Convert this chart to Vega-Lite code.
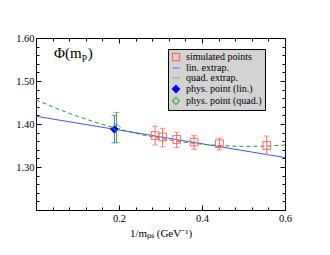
{
  "$schema": "https://vega.github.io/schema/vega-lite/v6.json",
  "width": 249,
  "height": 172,
  "autosize": {"type": "none"},
  "padding": {"left": 36, "top": 38, "right": 45, "bottom": 45},
  "background": "white",
  "config": {"view": {"stroke": "black", "strokeWidth": 1}, "font": "Liberation Serif"},
  "datasets": {
    "lin": [{"x": 0, "y": 1.418}, {"x": 0.6, "y": 1.322}],
    "quad": [
      {"x": 0, "y": 1.456}, {"x": 0.05, "y": 1.4359}, {"x": 0.1, "y": 1.4179}, {"x": 0.15, "y": 1.4019},
      {"x": 0.2, "y": 1.388}, {"x": 0.25, "y": 1.3762}, {"x": 0.3, "y": 1.3664}, {"x": 0.35, "y": 1.3587},
      {"x": 0.4, "y": 1.353}, {"x": 0.45, "y": 1.3494}, {"x": 0.5, "y": 1.3479}, {"x": 0.55, "y": 1.3484},
      {"x": 0.6, "y": 1.351}
    ],
    "pts": [
      {"series": "simulated points", "x": 0.287, "y": 1.373, "lo": 1.351, "hi": 1.395},
      {"series": "simulated points", "x": 0.305, "y": 1.370, "lo": 1.347, "hi": 1.390},
      {"series": "simulated points", "x": 0.339, "y": 1.364, "lo": 1.345, "hi": 1.381},
      {"series": "simulated points", "x": 0.381, "y": 1.358, "lo": 1.341, "hi": 1.373},
      {"series": "simulated points", "x": 0.442, "y": 1.354, "lo": 1.3395, "hi": 1.367},
      {"series": "simulated points", "x": 0.556, "y": 1.350, "lo": 1.329, "hi": 1.372},
      {"series": "phys. point (lin.)", "x": 0.189, "y": 1.388, "lo": 1.356, "hi": 1.420},
      {"series": "phys. point (quad.)", "x": 0.194, "y": 1.392, "lo": 1.357, "hi": 1.427}
    ]
  },
  "layer": [
    {
      "data": {"name": "lin"},
      "mark": {"type": "line", "color": "#4d4dff", "strokeWidth": 1},
      "encoding": {
        "x": {"field": "x", "type": "quantitative", "scale": {"domain": [0, 0.6], "nice": false, "zero": false},
          "axis": {"orient": "bottom", "values": [0, 0.2, 0.4, 0.6], "tickSize": -5, "tickColor": "black", "domain": false, "grid": false,
            "labelExpr": "datum.value == 0 ? '' : format(datum.value, '.1f')", "labelFont": "Liberation Serif", "labelFontSize": 10.5, "labelColor": "black", "labelPadding": 8, "labelFlush": false,
            "title": "1/mₚₛ (GeV⁻¹)", "titleFont": "Liberation Serif", "titleFontSize": 11, "titleFontWeight": "normal", "titleColor": "black", "titlePadding": 4}},
        "y": {"field": "y", "type": "quantitative", "scale": {"domain": [1.2, 1.6], "nice": false, "zero": false},
          "axis": {"orient": "left", "values": [1.2, 1.3, 1.4, 1.5, 1.6], "tickSize": -5, "tickColor": "black", "domain": false, "grid": false,
            "labelExpr": "datum.value < 1.25 ? '' : format(datum.value, '.2f')", "labelFont": "Liberation Serif", "labelFontSize": 10.5, "labelColor": "black", "labelPadding": 7, "labelFlush": false, "title": null}}
      }
    },
    {
      "data": {"name": "quad"},
      "mark": {"type": "line", "color": "#229922", "strokeWidth": 1, "strokeDash": [4, 3]},
      "encoding": {
        "x": {"field": "x", "type": "quantitative", "axis": {"orient": "top", "values": [0, 0.2, 0.4, 0.6], "tickSize": -5, "tickColor": "black", "domain": false, "grid": false, "labels": false, "title": null}},
        "y": {"field": "y", "type": "quantitative", "axis": {"orient": "right", "values": [1.2, 1.3, 1.4, 1.5, 1.6], "tickSize": -5, "tickColor": "black", "domain": false, "grid": false, "labels": false, "title": null}}
      }
    },
    {
      "data": {"name": "pts"},
      "transform": [{"filter": "datum.series == 'simulated points'"}],
      "mark": {"type": "rule", "color": "#ff6666", "strokeWidth": 1},
      "encoding": {
        "x": {"field": "x", "type": "quantitative", "axis": {"orient": "bottom", "values": [0.04, 0.08, 0.12, 0.16, 0.24, 0.28, 0.32, 0.36, 0.44, 0.48, 0.52, 0.56], "tickSize": -3, "tickColor": "black", "domain": false, "grid": false, "labels": false, "title": null}},
        "y": {"field": "lo", "type": "quantitative", "axis": {"orient": "left", "values": [1.22, 1.24, 1.26, 1.28, 1.32, 1.34, 1.36, 1.38, 1.42, 1.44, 1.46, 1.48, 1.52, 1.54, 1.56, 1.58], "tickSize": -3, "tickColor": "black", "domain": false, "grid": false, "labels": false, "title": null}},
        "y2": {"field": "hi"}
      }
    },
    {
      "data": {"name": "pts"},
      "transform": [{"filter": "datum.series == 'simulated points'"}],
      "mark": {"type": "tick", "color": "#ff6666", "orient": "horizontal", "size": 6, "thickness": 1},
      "encoding": {
        "x": {"field": "x", "type": "quantitative", "axis": {"orient": "top", "values": [0.04, 0.08, 0.12, 0.16, 0.24, 0.28, 0.32, 0.36, 0.44, 0.48, 0.52, 0.56], "tickSize": -3, "tickColor": "black", "domain": false, "grid": false, "labels": false, "title": null}},
        "y": {"field": "lo", "type": "quantitative", "axis": {"orient": "right", "values": [1.22, 1.24, 1.26, 1.28, 1.32, 1.34, 1.36, 1.38, 1.42, 1.44, 1.46, 1.48, 1.52, 1.54, 1.56, 1.58], "tickSize": -3, "tickColor": "black", "domain": false, "grid": false, "labels": false, "title": null}}
      }
    },
    {
      "data": {"name": "pts"},
      "transform": [{"filter": "datum.series == 'simulated points'"}],
      "mark": {"type": "tick", "color": "#ff6666", "orient": "horizontal", "size": 6, "thickness": 1},
      "encoding": {
        "x": {"field": "x", "type": "quantitative", "axis": null},
        "y": {"field": "hi", "type": "quantitative", "axis": null}
      }
    },
    {
      "data": {"name": "pts"},
      "transform": [{"filter": "datum.series == 'phys. point (lin.)'"}],
      "layer": [
        {"mark": {"type": "rule", "color": "#5555ff", "strokeWidth": 1},
         "encoding": {"x": {"field": "x", "type": "quantitative", "axis": null}, "y": {"field": "lo", "type": "quantitative", "axis": null}, "y2": {"field": "hi"}}},
        {"mark": {"type": "tick", "color": "#5555ff", "orient": "horizontal", "size": 6, "thickness": 1},
         "encoding": {"x": {"field": "x", "type": "quantitative", "axis": null}, "y": {"field": "lo", "type": "quantitative", "axis": null}}},
        {"mark": {"type": "tick", "color": "#5555ff", "orient": "horizontal", "size": 6, "thickness": 1},
         "encoding": {"x": {"field": "x", "type": "quantitative", "axis": null}, "y": {"field": "hi", "type": "quantitative", "axis": null}}}
      ]
    },
    {
      "data": {"name": "pts"},
      "transform": [{"filter": "datum.series == 'phys. point (quad.)'"}],
      "layer": [
        {"mark": {"type": "rule", "color": "#44aa44", "strokeWidth": 1},
         "encoding": {"x": {"field": "x", "type": "quantitative", "axis": null}, "y": {"field": "lo", "type": "quantitative", "axis": null}, "y2": {"field": "hi"}}},
        {"mark": {"type": "tick", "color": "#44aa44", "orient": "horizontal", "size": 6, "thickness": 1},
         "encoding": {"x": {"field": "x", "type": "quantitative", "axis": null}, "y": {"field": "lo", "type": "quantitative", "axis": null}}},
        {"mark": {"type": "tick", "color": "#44aa44", "orient": "horizontal", "size": 6, "thickness": 1},
         "encoding": {"x": {"field": "x", "type": "quantitative", "axis": null}, "y": {"field": "hi", "type": "quantitative", "axis": null}}}
      ]
    },
    {
      "data": {"name": "pts"},
      "mark": {"type": "point", "strokeWidth": 1, "opacity": 1, "size": 60},
      "encoding": {
        "x": {"field": "x", "type": "quantitative", "axis": null},
        "y": {"field": "y", "type": "quantitative", "axis": null},
        "shape": {"field": "series", "type": "nominal",
          "scale": {"domain": ["simulated points", "lin. extrap.", "quad. extrap.", "phys. point (lin.)", "phys. point (quad.)"],
                    "range": ["square", "stroke", "M-1,0H-0.55M-0.2,0H0.2M0.55,0H1", "diamond", "diamond"]},
          "legend": {"title": null, "orient": "none", "legendX": 132, "legendY": 11, "fillColor": "#d3d3d3", "strokeColor": "black", "padding": 3,
                     "labelFont": "Liberation Serif", "labelFontSize": 10, "labelColor": "black", "symbolSize": 50, "symbolStrokeWidth": 1.2, "rowPadding": 0, "labelOffset": 5}},
        "stroke": {"field": "series", "type": "nominal",
          "scale": {"domain": ["simulated points", "lin. extrap.", "quad. extrap.", "phys. point (lin.)", "phys. point (quad.)"],
                    "range": ["#ff6666", "#7777ff", "#229922", "#0000ff", "#55aa55"]},
          "legend": {"title": null}},
        "fill": {"field": "series", "type": "nominal",
          "scale": {"domain": ["simulated points", "lin. extrap.", "quad. extrap.", "phys. point (lin.)", "phys. point (quad.)"],
                    "range": ["transparent", "transparent", "transparent", "#0000ff", "transparent"]},
          "legend": {"title": null}}
      }
    },
    {
      "data": {"values": [{"t": "Φ(m"}]},
      "mark": {"type": "text", "font": "Liberation Serif", "fontSize": 15, "align": "left", "baseline": "alphabetic", "color": "black"},
      "encoding": {"text": {"field": "t"}, "x": {"datum": 0.0434, "type": "quantitative", "axis": null}, "y": {"datum": 1.5535, "type": "quantitative", "axis": null}}
    },
    {
      "data": {"values": [{"t": "P"}]},
      "mark": {"type": "text", "font": "Liberation Serif", "fontSize": 9.5, "align": "left", "baseline": "alphabetic", "color": "black"},
      "encoding": {"text": {"field": "t"}, "x": {"datum": 0.1105, "type": "quantitative", "axis": null}, "y": {"datum": 1.5445, "type": "quantitative", "axis": null}}
    },
    {
      "data": {"values": [{"t": ")"}]},
      "mark": {"type": "text", "font": "Liberation Serif", "fontSize": 15, "align": "left", "baseline": "alphabetic", "color": "black"},
      "encoding": {"text": {"field": "t"}, "x": {"datum": 0.1245, "type": "quantitative", "axis": null}, "y": {"datum": 1.5535, "type": "quantitative", "axis": null}}
    }
  ],
  "resolve": {"axis": {"x": "independent", "y": "independent"}}
}
